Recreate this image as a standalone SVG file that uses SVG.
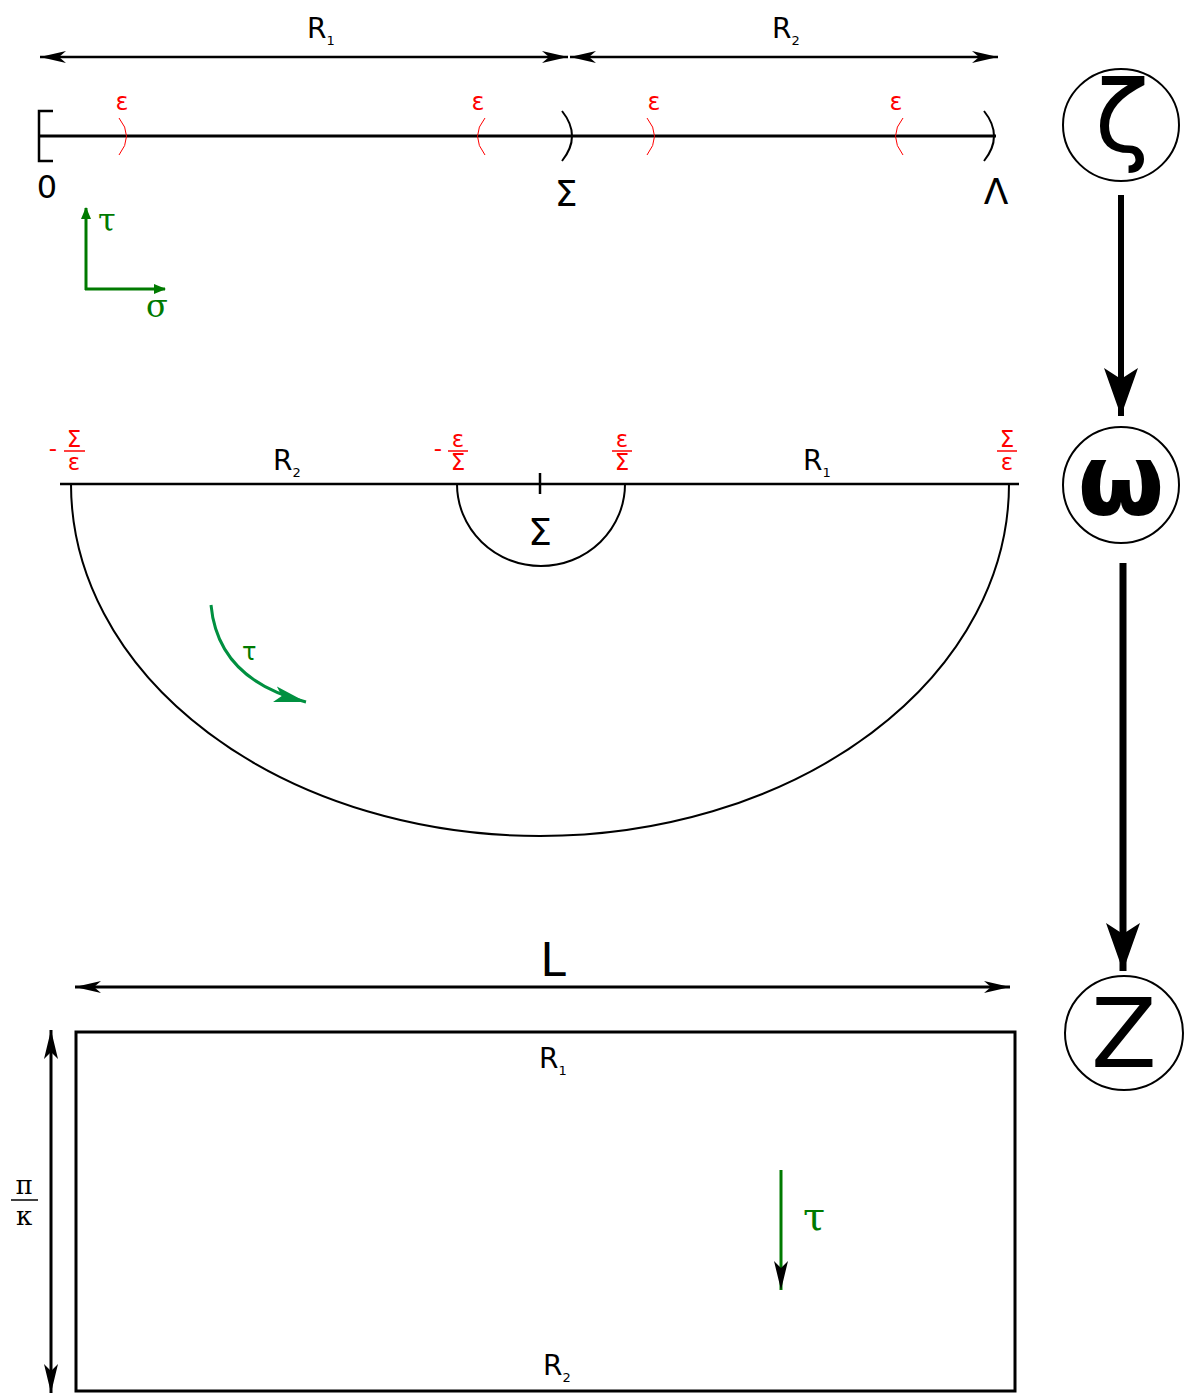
<svg xmlns="http://www.w3.org/2000/svg" width="1187" height="1395" viewBox="0 0 1187 1395">
<style>
.t{font-family:"DejaVu Sans",sans-serif;fill:#000}
.s{font-family:"DejaVu Serif",serif}
.red{fill:#ff0000}
.grn{fill:#007a00}
.ln{stroke:#000;fill:none}
.ra{stroke:#ff0000;fill:none;stroke-width:1}
</style>
<defs>
<marker id="ah" markerUnits="userSpaceOnUse" markerWidth="28" markerHeight="14" viewBox="0 0 28 14" refX="26" refY="7" orient="auto-start-reverse">
<path d="M0,1 L26,7 L0,13 L7,7 z" fill="#000"/>
</marker>
<marker id="big" markerUnits="userSpaceOnUse" markerWidth="50" markerHeight="36" viewBox="0 0 50 36" refX="48" refY="18" orient="auto">
<path d="M0,1 L48,18 L0,35 L11,18 z" fill="#000"/>
</marker>
<marker id="gah" markerUnits="userSpaceOnUse" markerWidth="34" markerHeight="20" viewBox="0 0 34 20" refX="32" refY="10" orient="auto">
<path d="M0,2 L32,10 L0,18 L7,10 z" fill="#009040"/>
</marker>
<marker id="gsm" markerUnits="userSpaceOnUse" markerWidth="12" markerHeight="10" viewBox="0 0 12 10" refX="11" refY="5" orient="auto">
<path d="M0,0 L12,5 L0,10 z" fill="#007a00"/>
</marker>
<marker id="bsm" markerUnits="userSpaceOnUse" markerWidth="30" markerHeight="16" viewBox="0 0 30 16" refX="29" refY="8" orient="auto-start-reverse">
<path d="M0,1 L29,8 L0,15 L7,8 z" fill="#000"/>
</marker>
</defs>

<g id="top-line">
<line class="ln" x1="38" y1="136" x2="996" y2="136" stroke-width="3"/>
<path class="ln" d="M53,111 L39,111 L39,161 L53,161" stroke-width="2.5"/>
<path class="ra" d="M119,118 Q134,136 119,155"/>
<path class="ra" d="M485,118 Q470,136 485,155"/>
<path class="ra" d="M647,118 Q662,136 647,155"/>
<path class="ra" d="M903,118 Q888,136 903,155"/>
<path class="ln" stroke-width="2" d="M562,111 Q582,136 562,161"/>
<path class="ln" stroke-width="2" d="M984,111 Q1004,136 984,161"/>
<text class="t red" x="122" y="110" font-size="24" text-anchor="middle">ε</text>
<text class="t red" x="478" y="110" font-size="24" text-anchor="middle">ε</text>
<text class="t red" x="654" y="110" font-size="24" text-anchor="middle">ε</text>
<text class="t red" x="896" y="110" font-size="24" text-anchor="middle">ε</text>
<text class="t" x="47" y="198" font-size="32" text-anchor="middle">0</text>
<text class="t" x="566" y="206" font-size="36" text-anchor="middle">Σ</text>
<text class="t" x="996" y="204" font-size="36" text-anchor="middle">Λ</text>
</g>

<g id="top-dims">
<line class="ln" x1="40" y1="57" x2="568" y2="57" stroke-width="2.5" marker-start="url(#ah)" marker-end="url(#ah)"/>
<line class="ln" x1="570" y1="57" x2="998" y2="57" stroke-width="2.5" marker-start="url(#ah)" marker-end="url(#ah)"/>
<text class="t" x="307" y="38" font-size="28">R<tspan font-size="13" dy="7">1</tspan></text>
<text class="t" x="772" y="38" font-size="28">R<tspan font-size="13" dy="7">2</tspan></text>
</g>

<g id="axes">
<line x1="86" y1="290" x2="86" y2="208" stroke="#007a00" stroke-width="3" marker-end="url(#gsm)"/>
<line x1="85" y1="289" x2="165" y2="289" stroke="#007a00" stroke-width="3" marker-end="url(#gsm)"/>
<text class="s grn" x="98" y="231" font-size="32">τ</text>
<text class="s grn" x="146" y="317" font-size="32">σ</text>
</g>

<g id="node-zeta">
<ellipse cx="1121" cy="125" rx="58" ry="56" fill="#fff" stroke="#000" stroke-width="2"/>
<text class="t" x="1122" y="152" font-size="100" text-anchor="middle">ζ</text>
</g>
<g id="node-omega">
<ellipse cx="1121" cy="485" rx="58" ry="58" fill="#fff" stroke="#000" stroke-width="2"/>
<text class="t" x="1121" y="515" font-size="100" font-weight="bold" text-anchor="middle">ω</text>
</g>
<g id="node-z">
<ellipse cx="1124" cy="1033" rx="59" ry="57" fill="#fff" stroke="#000" stroke-width="2"/>
<text class="t" x="1124" y="1067" font-size="96" text-anchor="middle">Z</text>
</g>

<g id="connectors">
<line class="ln" x1="1121" y1="195" x2="1121" y2="416" stroke-width="6" marker-end="url(#big)"/>
<line class="ln" x1="1123" y1="563" x2="1123" y2="971" stroke-width="7" marker-end="url(#big)"/>
</g>

<g id="mid">
<line class="ln" x1="60" y1="484" x2="1019" y2="484" stroke-width="2.5"/>
<path class="ln" stroke-width="2" d="M71,484 A469,352 0 0 0 1009,484"/>
<path class="ln" stroke-width="2" d="M457,484 A84,82 0 0 0 625,484"/>
<line class="ln" x1="540" y1="473" x2="540" y2="494" stroke-width="2.5"/>
<text class="t" x="540" y="545" font-size="38" text-anchor="middle">Σ</text>
<text class="t" x="273" y="470" font-size="28">R<tspan font-size="13" dy="7">2</tspan></text>
<text class="t" x="803" y="470" font-size="28">R<tspan font-size="13" dy="7">1</tspan></text>
<g font-size="23">
<text class="t red" x="53" y="456" text-anchor="middle">-</text>
<text class="t red" x="74" y="447" text-anchor="middle">Σ</text>
<line x1="64" y1="451" x2="85" y2="451" stroke="#ff0000" stroke-width="1.5"/>
<text class="t red" x="74" y="470" text-anchor="middle">ε</text>
<text class="t red" x="438" y="456" text-anchor="middle">-</text>
<text class="t red" x="458" y="447" text-anchor="middle">ε</text>
<line x1="448" y1="451" x2="468" y2="451" stroke="#ff0000" stroke-width="1.5"/>
<text class="t red" x="458" y="470" text-anchor="middle">Σ</text>
<text class="t red" x="622" y="447" text-anchor="middle">ε</text>
<line x1="612" y1="451" x2="632" y2="451" stroke="#ff0000" stroke-width="1.5"/>
<text class="t red" x="622" y="470" text-anchor="middle">Σ</text>
<text class="t red" x="1007" y="447" text-anchor="middle">Σ</text>
<line x1="997" y1="451" x2="1017" y2="451" stroke="#ff0000" stroke-width="1.5"/>
<text class="t red" x="1007" y="470" text-anchor="middle">ε</text>
</g>
<path d="M211,605 Q218,680 306,702" fill="none" stroke="#009040" stroke-width="3" marker-end="url(#gah)"/>
<text class="t" x="242" y="660" font-size="24" style="fill:#007a00">τ</text>
</g>

<g id="bottom">
<line class="ln" x1="75" y1="987" x2="1010" y2="987" stroke-width="3" marker-start="url(#ah)" marker-end="url(#ah)"/>
<text class="t" x="553" y="976" font-size="46" text-anchor="middle">L</text>
<rect x="76" y="1032" width="939" height="359" fill="none" stroke="#000" stroke-width="3"/>
<line class="ln" x1="51" y1="1030" x2="51" y2="1393" stroke-width="3" marker-start="url(#bsm)" marker-end="url(#bsm)"/>
<text class="s" x="24" y="1194" font-size="26" text-anchor="middle">π</text>
<line x1="11" y1="1200" x2="38" y2="1200" stroke="#000" stroke-width="1.5"/>
<text class="s" x="24" y="1225" font-size="26" text-anchor="middle">κ</text>
<text class="t" x="539" y="1068" font-size="28">R<tspan font-size="13" dy="7">1</tspan></text>
<text class="t" x="543" y="1375" font-size="28">R<tspan font-size="13" dy="7">2</tspan></text>
<line x1="781" y1="1170" x2="781" y2="1290" stroke="#007a00" stroke-width="3" marker-end="url(#bsm)"/>
<text class="s grn" x="803" y="1230" font-size="40">τ</text>
</g>
</svg>
